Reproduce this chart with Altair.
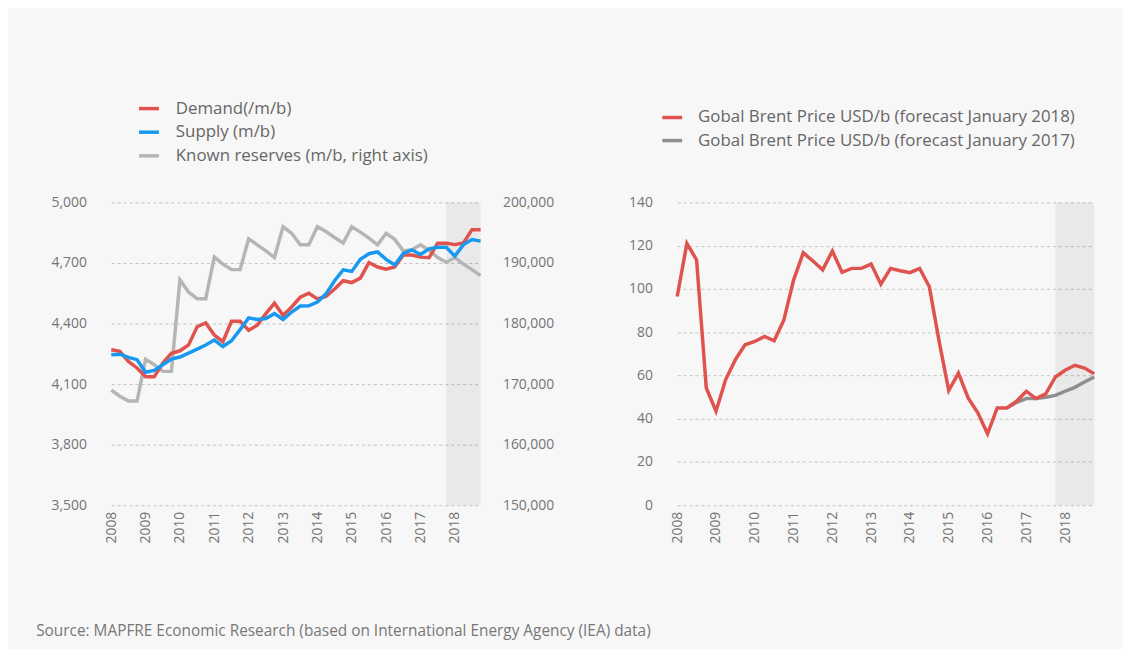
import altair as alt
import pandas as pd

FONT = "Open Sans"

# ---------------- data ----------------
quarters = [2008 + q / 4 for q in range(44)]
year_ticks = list(range(2008, 2019))

demand = [4270, 4262, 4212, 4180, 4136, 4136, 4204, 4253,
          4265, 4294, 4384, 4403, 4343, 4310, 4411, 4411,
          4367, 4392, 4449, 4501, 4441, 4482, 4530, 4550,
          4522, 4534, 4571, 4612, 4603, 4625, 4702, 4680,
          4669, 4680, 4739, 4739, 4729, 4726, 4798, 4798,
          4791, 4799, 4865, 4865]
supply = [4245, 4248, 4232, 4221, 4159, 4168, 4196, 4224,
          4234, 4253, 4273, 4294, 4318, 4286, 4315, 4370,
          4428, 4420, 4425, 4449, 4420, 4457, 4487, 4488,
          4506, 4547, 4612, 4666, 4658, 4718, 4746, 4755,
          4718, 4690, 4747, 4765, 4742, 4770, 4778, 4778,
          4734, 4791, 4816, 4808]
reserves = [169000, 168000, 167200, 167200, 174100, 173200, 172100, 172100,
            187200, 185200, 184100, 184100, 191000, 189800, 188900, 188900,
            194000, 193000, 192000, 190900, 196000, 194900, 193000, 193000,
            196000, 195200, 194200, 193300, 196000, 195100, 194100, 193000,
            194900, 193900, 192000, 192200, 193000, 192100, 190900, 190100,
            190900, 189800, 188900, 187900]

brent_2018 = [96.5, 121, 113.4, 54.2, 43.5, 58.1, 67.3, 74.2,
              75.7, 78, 76, 85.7, 104.1, 116.7, 112.9, 108.8,
              117.5, 107.7, 109.5, 109.5, 111.5, 102.2, 109.5, 108.4,
              107.5, 109.5, 101, 76, 53, 61.1, 49.6, 42.7,
              33, 45, 45, 48.1, 52.7, 49.3, 51.5, 59.3,
              62.4, 64.7, 63.4, 60.8]
brent_2017_quarters = quarters[34:]
brent_2017 = [45, 47.6, 49.3, 49.3, 49.9, 50.8, 52.7, 54.5, 57, 59.3]

shade_start = [2017.75]
shade_end = [2018.75]

left_series = ["Demand(/m/b)", "Supply (m/b)", "Known reserves (m/b, right axis)"]
left_colors = ["#e0524d", "#1799f0", "#b5b5b5"]
right_series = ["Gobal Brent Price USD/b (forecast January 2018)",
                "Gobal Brent Price USD/b (forecast January 2017)"]
right_colors = ["#e0524d", "#8e8e8e"]

left_ticks = [3500, 3800, 4100, 4400, 4700, 5000]
right_ticks = [150000, 160000, 170000, 180000, 190000, 200000]
price_ticks = [0, 20, 40, 60, 80, 100, 120, 140]

source = "Source: MAPFRE Economic Research (based on International Energy Agency (IEA) data)"

# ---------------- tables ----------------
dem_sup = pd.concat([
    pd.DataFrame({"t": quarters, "v": demand, "s": left_series[0]}),
    pd.DataFrame({"t": quarters, "v": supply, "s": left_series[1]}),
])
res_df = pd.DataFrame({"t": quarters, "v": reserves, "s": left_series[2]})
shade_df = pd.DataFrame({"a": shade_start, "b": shade_end})
b18 = pd.DataFrame({"t": quarters, "v": brent_2018, "s": right_series[0]})
b17 = pd.DataFrame({"t": brent_2017_quarters, "v": brent_2017, "s": right_series[1]})

W1, W2, H = 372, 420, 305

xscale = alt.Scale(domain=[2008, 2018.75], nice=False, zero=False)
xaxis = alt.Axis(values=year_ticks, format="d", labelAngle=270, grid=False,
                 domain=False, ticks=False, labelPadding=6, labelFlush=False,
                 title=None)

grid_kw = dict(grid=True, gridDash=[3, 3], gridColor="#c4c4c4", gridWidth=1)

# ---------------- left panel ----------------
left_color = alt.Color(
    "s:N",
    scale=alt.Scale(domain=left_series, range=left_colors),
    legend=alt.Legend(title=None, orient="none", legendX=26, legendY=-106.5,
                      symbolType="stroke", symbolSize=400, symbolStrokeWidth=3.5,
                      labelFontSize=17, labelColor="#666666", labelLimit=500,
                      labelOffset=15, rowPadding=3.8, labelFont=FONT),
)

shade_l = alt.Chart(shade_df).mark_rect(color="black", opacity=0.055).encode(
    x=alt.X("a:Q", scale=xscale, axis=xaxis), x2="b:Q",
    y=alt.value(0), y2=alt.value(H))

lines_l = alt.Chart(dem_sup).mark_line(strokeWidth=3.5).encode(
    x=alt.X("t:Q", scale=xscale, axis=xaxis),
    y=alt.Y("v:Q", scale=alt.Scale(domain=[3500, 5000], nice=False, zero=False),
            axis=alt.Axis(values=left_ticks, format=",d", domain=False, ticks=False,
                          labelPadding=25, orient="left", title=None, **grid_kw)),
    color=left_color,
    detail="s:N",
)

res_l = alt.Chart(res_df).mark_line(strokeWidth=3.5).encode(
    x=alt.X("t:Q", scale=xscale, axis=xaxis),
    y=alt.Y("v:Q", scale=alt.Scale(domain=[150000, 200000], nice=False, zero=False),
            axis=alt.Axis(values=right_ticks, format=",d", domain=False, ticks=False,
                          grid=False, labelPadding=22, orient="right", title=None)),
    color=left_color,
)

left = alt.layer(shade_l, res_l, lines_l).resolve_scale(y="independent").properties(
    width=W1, height=H)

# ---------------- right panel ----------------
right_color = alt.Color(
    "s:N",
    scale=alt.Scale(domain=right_series, range=right_colors),
    legend=alt.Legend(title=None, orient="none", legendX=-17, legendY=-97.5,
                      symbolType="stroke", symbolSize=400, symbolStrokeWidth=3.5,
                      labelFontSize=17, labelColor="#666666", labelLimit=500,
                      labelOffset=14, rowPadding=3.2, labelFont=FONT),
)

yprice = alt.Y("v:Q", scale=alt.Scale(domain=[0, 140], nice=False),
               axis=alt.Axis(values=price_ticks, domain=False, ticks=False,
                             labelPadding=25, title=None, **grid_kw))

shade_r = alt.Chart(shade_df).mark_rect(color="black", opacity=0.055).encode(
    x=alt.X("a:Q", scale=xscale, axis=xaxis), x2="b:Q",
    y=alt.value(0), y2=alt.value(H))

line17 = alt.Chart(b17).mark_line(strokeWidth=3.5).encode(
    x=alt.X("t:Q", scale=xscale, axis=xaxis), y=yprice, color=right_color)
line18 = alt.Chart(b18).mark_line(strokeWidth=3.5).encode(
    x=alt.X("t:Q", scale=xscale, axis=xaxis), y=yprice, color=right_color)

right = alt.layer(shade_r, line17, line18).properties(width=W2, height=H)

# ---------------- compose ----------------
chart = alt.hconcat(left, right, spacing=74).resolve_scale(
    color="independent"
).properties(
    title=alt.TitleParams(text=source, orient="bottom", anchor="start",
                          frame="bounds", fontSize=15.5, font=FONT,
                          color="#777777", fontWeight="normal", offset=82, dx=-15),
    padding={"left": 28, "top": 86.5, "right": 22, "bottom": 6},
    background="#f7f7f7",
).configure_view(stroke=None).configure_axis(
    labelFont=FONT, labelColor="#747474", labelFontSize=14
)

chart.save("out.html", embed_options={"renderer": "svg", "actions": False})
